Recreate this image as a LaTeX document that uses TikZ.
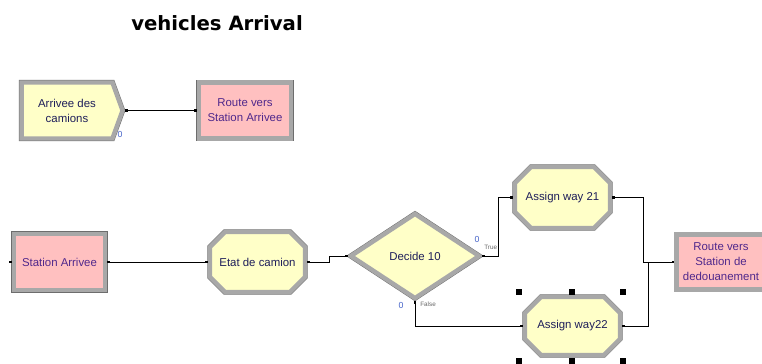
\documentclass[tikz,border=0pt]{standalone}
\usepackage{fontspec}
\setmainfont{Liberation Sans}
\newfontfamily\titlefont{DejaVu Sans}
\usetikzlibrary{shapes.geometric, shapes.misc, shapes.symbols, arrows.meta}

\definecolor{blockyellow}{RGB}{255,255,200}
\definecolor{blockpink}{RGB}{255,192,192}
\definecolor{bevel}{RGB}{168,168,168}
\definecolor{navytext}{RGB}{30,30,90}
\definecolor{purpletext}{RGB}{80,40,140}
\definecolor{countblue}{RGB}{70,100,200}

\begin{document}
\begin{tikzpicture}[x=0.02cm, y=-0.02cm,
    block/.style={preaction={draw=bevel!65!black, line width=3pt}, draw=bevel, line width=2.5pt,
        font=\fontsize{6.5}{8.5}\selectfont, align=center, inner sep=1pt},
    yblock/.style={block, fill=blockyellow, text=navytext},
    pblock/.style={block, fill=blockpink, text=purpletext, rectangle},
    assignbox/.style={yblock, chamfered rectangle, chamfered rectangle xsep=0.18cm, chamfered rectangle ysep=0.18cm},
    conn/.style={line width=0.55pt, {Square[length=1.6pt,width=1.6pt]}-{Square[length=1.6pt,width=1.6pt]}},
    count/.style={font=\fontsize{5}{6}\selectfont, text=countblue, inner sep=0pt},
    branch/.style={font=\fontsize{3.6}{4}\selectfont, text=black!60, inner sep=0pt},
    handle/.style={fill=black, minimum size=3.5pt, inner sep=0pt}]
    \useasboundingbox (0,0) rectangle (762,363);

    % title
    \node[font=\titlefont\bfseries\fontsize{11.2}{13}\selectfont] (title) at (217,23) {vehicles Arrival};

    % arrival of trucks
    \node[yblock, signal, signal to=east, signal pointer angle=140, minimum width=2.02cm, minimum height=1.12cm] (create) at (67,110.5) {Arrivee des\\camions};
    \node[pblock, minimum width=1.84cm, minimum height=1.12cm] (route1) at (245,110.5) {Route vers\\Station Arrivee};
    \node[count] (c1) at (120,134) {0};
    \draw[conn] (create.east) -- (route1.west);

    % station and decision
    \node[pblock, minimum width=1.82cm, minimum height=1.12cm] (station) at (59.5,262) {Station Arrivee};
    \node[assignbox, minimum width=1.9cm, minimum height=1.2cm] (etat) at (257.5,262) {Etat de camion};
    \node[yblock, diamond, minimum width=2.6cm, minimum height=1.72cm, inner sep=0pt] (decide) at (415,256) {Decide 10};
    \fill (station.west) ++(-1.6pt,-0.8pt) rectangle ++(1.6pt,1.6pt);
    \draw[conn] (station.east) -- (etat.west);
    \draw[conn] (etat.east) -- ++(22,0) |- (decide.west);

    % branches
    \node[assignbox, minimum width=1.9cm, minimum height=1.22cm] (assign21) at (562.5,197.5) {Assign way 21};
    \node[assignbox, minimum width=1.9cm, minimum height=1.16cm] (assign22) at (572.5,326) {Assign way22};
    \node[pblock, minimum width=1.78cm, minimum height=1.1cm] (route2) at (721,262) {Route vers\\Station de\\dedouanement};
    \draw[conn] (decide.east) -- ++(16,0) |- (assign21.west);
    \draw[conn] (decide.south) |- (assign22.west);
    \draw[conn] (assign21.east) -- ++(31,0) |- (route2.west);
    \draw[conn] (assign22.east) -- ++(26,0) |- (route2.west);
    \node[count] (c2) at (477,239) {0};
    \node[count] (c3) at (401,305) {0};
    \node[branch, anchor=west] (true) at (484,247) {True};
    \node[branch, anchor=west] (false) at (420,304) {False};

    % selection handles
    \foreach \hx in {519,572,623}
        \foreach \hy in {292,361}
            \node[handle] at (\hx,\hy) {};
\end{tikzpicture}
\end{document}
